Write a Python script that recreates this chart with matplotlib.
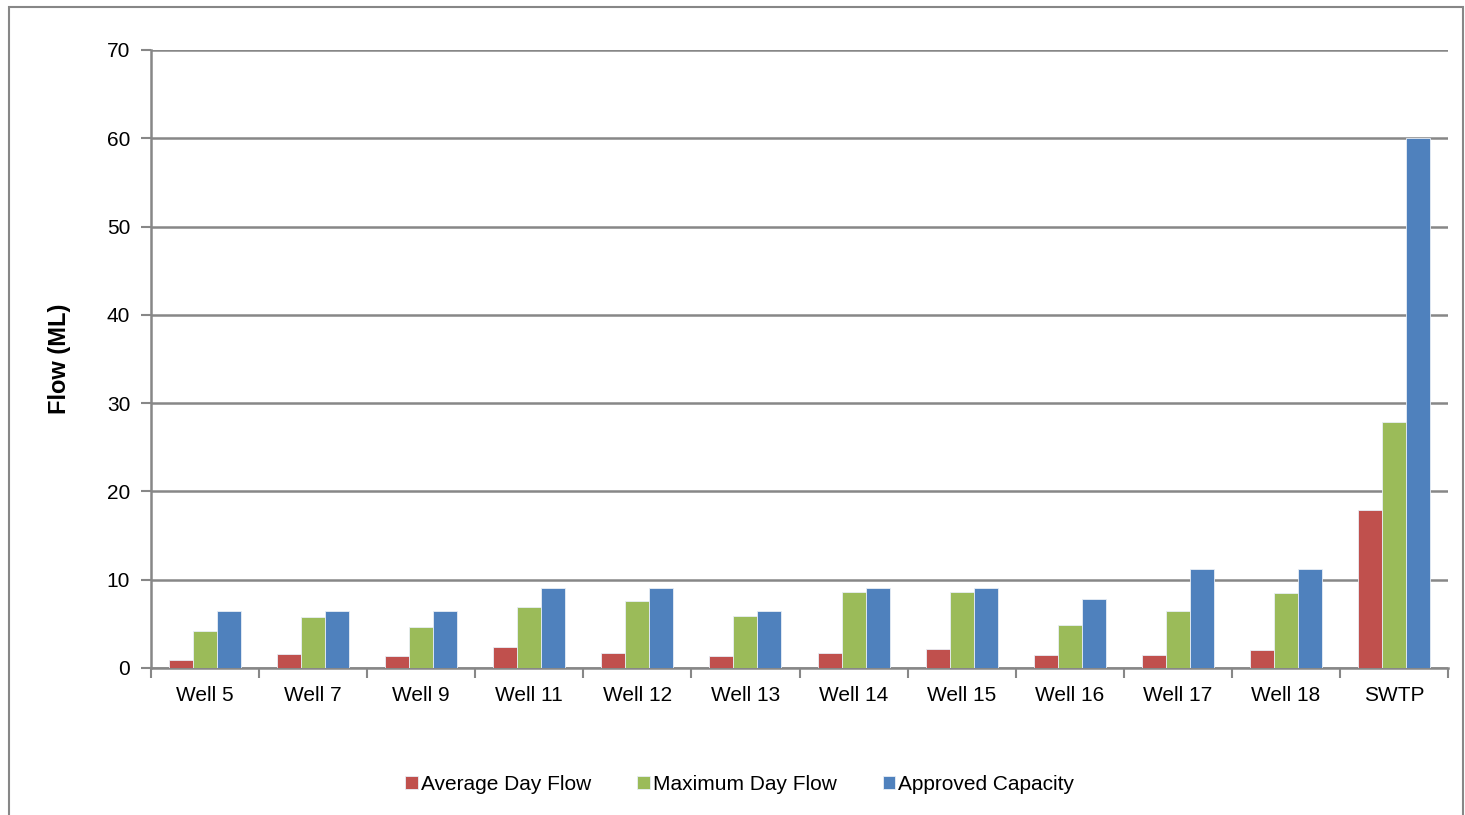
import numpy as np
import matplotlib.pyplot as plt
from matplotlib.patches import Rectangle

plt.rcParams['font.family'] = ['Liberation Sans', 'DejaVu Sans']

sites = ['Well 5', 'Well 7', 'Well 9', 'Well 11', 'Well 12', 'Well 13',
         'Well 14', 'Well 15', 'Well 16', 'Well 17', 'Well 18', 'SWTP']
avg_day = [0.85, 1.6, 1.3, 2.4, 1.7, 1.4, 1.7, 2.2, 1.5, 1.45, 2.05, 17.9]
max_day = [4.2, 5.8, 4.6, 6.9, 7.6, 5.9, 8.6, 8.6, 4.9, 6.4, 8.5, 27.9]
approved = [6.5, 6.5, 6.5, 9.1, 9.1, 6.5, 9.1, 9.1, 7.8, 11.2, 11.2, 60]

series = [('Average Day Flow', avg_day, '#C0504D'),
          ('Maximum Day Flow', max_day, '#9BBB59'),
          ('Approved Capacity', approved, '#4F81BD')]

grey = '#878787'
fig = plt.figure(figsize=(14.65, 8.15), dpi=100)
ax = fig.add_axes([0.1031, 0.1804, 0.8853, 0.7583])

ind = np.arange(len(sites))
width = 0.222
handles = []
for i, (name, vals, col) in enumerate(series):
    b = ax.bar(ind + (i - 1) * width, vals, width, color=col,
               edgecolor='#e8eef6', linewidth=0.6, zorder=3, label=name)
    handles.append(b)

ax.set_xlim(-0.5, len(sites) - 0.5)
ax.set_ylim(0, 70)
ax.set_yticks(np.arange(0, 71, 10))
ax.yaxis.grid(True, color=grey, linewidth=1.8, zorder=0)
ax.set_axisbelow(True)

ax.set_xticks(ind)
ax.set_xticklabels(sites)
ax.set_xticks(np.arange(-0.5, len(sites), 1), minor=True)
ax.tick_params(axis='x', which='major', length=0, pad=13, labelsize=15)
ax.tick_params(axis='x', which='minor', length=7, width=1.5, color=grey)
ax.tick_params(axis='y', length=7, width=1.5, color=grey, labelsize=15, pad=8)

for s in ['top', 'right']:
    ax.spines[s].set_visible(False)
for s in ['left', 'bottom']:
    ax.spines[s].set_color(grey)
    ax.spines[s].set_linewidth(1.8)

ax.set_ylabel('Flow (ML)', fontsize=17, fontweight='bold', labelpad=26)

leg = fig.legend(handles=handles, loc='center', bbox_to_anchor=(0.505, 0.038),
                 ncol=3, frameon=False, fontsize=15, handlelength=0.6,
                 handleheight=0.6, handletextpad=0.15, columnspacing=2.2)

fig.patches.append(Rectangle((9 / 1465, -0.02), 1454 / 1465, 1.02 - 7 / 815,
                             transform=fig.transFigure, fill=False,
                             edgecolor=grey, linewidth=1.5))

fig.savefig('out.png', dpi=100)
